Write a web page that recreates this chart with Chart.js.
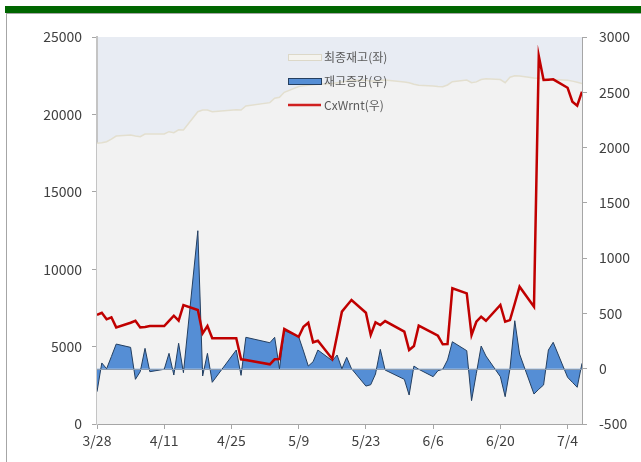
<!DOCTYPE html>
<html>
<head>
<meta charset="utf-8">
<script src="https://cdn.jsdelivr.net/npm/chart.js@4"></script>
<style>
  body { margin: 0; background: #fff; }
  #topBar { position: absolute; left: 5px; top: 6px; width: 636px; height: 7px; background: #006600; }
  #frame { position: absolute; left: 6px; top: 13px; width: 640px; height: 460px; border-left: 1px solid #a6a6a6; border-top: 1px solid #a6a6a6; }
  #wrap { position: absolute; left: 0; top: 0; }
</style>
</head>
<body>
<div id="topBar"></div>
<div id="frame"></div>
<div id="wrap"><canvas id="chartStock" width="641" height="462"></canvas></div>
<script>
/* 재고 차트 */
const dates = [
  '3/28','3/29','3/30','3/31','4/1',
  '4/4','4/5','4/6','4/7','4/8',
  '4/11','4/12','4/13','4/14','4/15',
  '4/18','4/19','4/20','4/21',
  '4/26','4/27','4/28',
  '5/3','5/4','5/5','5/6',
  '5/9','5/10','5/11','5/12','5/13',
  '5/16','5/17','5/18','5/19','5/20',
  '5/23','5/24','5/25','5/26','5/27',
  '5/31','6/1','6/2','6/3',
  '6/6','6/7','6/8','6/9','6/10',
  '6/13','6/14','6/15','6/16','6/17',
  '6/20','6/21','6/22','6/23','6/24',
  '6/27','6/28','6/29','6/30','7/1',
  '7/4','7/5','7/6','7/7'
];

// 최종재고 (좌)
const finalStock = [
  18134,18170,18237,18400,18600,
  18669,18605,18560,18734,18734,
  18734,18883,18819,19000,18992,
  20175,20284,20284,20175,
  20300,20284,20543,
  20760,21040,21105,21428,
  21800,21850,21880,21920,21950,
  22000,22050,22100,22150,22200,
  22200,22150,22150,22200,22220,
  22100,22050,21950,21880,
  21830,21800,21790,21900,22113,
  22222,22050,22100,22250,22300,
  22250,22050,22400,22500,22480,
  22350,22330,22300,22280,22260,
  22200,22150,22080,22000
];

// 재고증감 (우)
const stockChange = [
  -208,52,0,110,223,
  193,-96,-27,184,-27,
  -5,139,-57,230,-36,
  1248,-66,139,-123,
  169,-60,284,
  235,284,0,344,
  289,160,24,63,169,
  72,124,0,103,0,
  -157,-145,-48,175,-12,
  -96,-238,24,-5,
  -72,-18,-5,79,244,
  163,-289,-42,205,115,
  -72,-253,0,434,133,
  -229,-186,-147,169,239,
  -78,-123,-168,49
];

// CxWrnt (우)
const cxWrnt = [
  486,506,447,465,374,
  416,434,374,378,386,
  386,432,479,434,576,
  531,320,386,275,
  275,85,78,
  40,85,88,359,
  289,380,416,239,253,
  88,300,516,570,621,
  506,305,419,395,431,
  335,169,205,389,
  321,298,221,223,727,
  682,305,425,470,434,
  576,425,440,590,742,
  561,2828,2611,2614,2617,
  2541,2415,2379,2505
];

const xTickLabels = ['3/28','4/11','4/25','5/9','5/23','6/6','6/20','7/4'];
const seriesNames = ['최종재고(좌)', '재고증감(우)', 'CxWrnt(우)'];

const dayOf = (s) => {
  let [m, d] = s.split('/').map(Number);
  return Math.round((Date.UTC(2016, m - 1, d) - Date.UTC(2016, 2, 28)) / 864e5);
};
const toPoints = (arr) => dates.map((d, i) => ({ x: dayOf(d), y: arr[i] }));

Chart.defaults.font.family = "'Noto Sans CJK KR', 'Noto Sans', sans-serif";
Chart.defaults.color = '#404040';

const plotBg = {
  id: 'plotBg',
  beforeDraw(chart) {
    let { ctx, chartArea: a } = chart;
    ctx.save();
    ctx.fillStyle = '#E8ECF3';
    ctx.fillRect(a.left, a.top, a.right - a.left, a.bottom - a.top);
    ctx.restore();
  }
};

const zeroLine = {
  id: 'zeroLine',
  afterDatasetsDraw(chart) {
    let { ctx, chartArea: a } = chart;
    let y = Math.round(chart.scales.y1.getPixelForValue(0)) + 0.5;
    ctx.save();
    ctx.strokeStyle = '#8A9BB0';
    ctx.lineWidth = 1;
    ctx.beginPath();
    ctx.moveTo(a.left, y);
    ctx.lineTo(a.right, y);
    ctx.stroke();
    ctx.restore();
  }
};

const innerLegend = {
  id: 'innerLegend',
  afterDraw(chart) {
    let ctx = chart.ctx;
    let x = 288, w = 33;
    let rows = [57, 81, 105];
    ctx.save();
    ctx.font = "12px 'Noto Sans CJK KR', sans-serif";
    ctx.textBaseline = 'middle';
    ctx.fillStyle = '#F4F3EE';
    ctx.strokeStyle = '#DCD8C8';
    ctx.lineWidth = 1;
    ctx.fillRect(x, rows[0] - 3, w, 6);
    ctx.strokeRect(x + 0.5, rows[0] - 2.5, w, 6);
    ctx.fillStyle = '#558ED5';
    ctx.strokeStyle = '#243F60';
    ctx.fillRect(x, rows[1] - 3, w, 6);
    ctx.strokeRect(x + 0.5, rows[1] - 2.5, w, 6);
    ctx.strokeStyle = '#D02020';
    ctx.lineWidth = 2.5;
    ctx.beginPath();
    ctx.moveTo(x, rows[2]);
    ctx.lineTo(x + w, rows[2]);
    ctx.stroke();
    ctx.fillStyle = '#595959';
    seriesNames.forEach((n, i) => ctx.fillText(n, x + w + 3, rows[i]));
    ctx.restore();
  }
};

let ctx = document.getElementById('chartStock').getContext('2d');
let myChart = new Chart(ctx, {
  type: 'line',
  plugins: [plotBg, zeroLine, innerLegend],
  data: {
    datasets: [
      {
        label: seriesNames[2],
        data: toPoints(cxWrnt),
        yAxisID: 'y1',
        borderColor: '#C00000',
        borderWidth: 2.5,
        fill: false,
        order: 1,
      },
      {
        label: seriesNames[1],
        data: toPoints(stockChange),
        yAxisID: 'y1',
        borderColor: '#243F60',
        borderWidth: 1,
        backgroundColor: '#558ED5',
        fill: 'origin',
        order: 2,
      },
      {
        label: seriesNames[0],
        data: toPoints(finalStock),
        yAxisID: 'y',
        borderColor: '#E3DFCF',
        borderWidth: 1.5,
        backgroundColor: '#F2F2F2',
        fill: 'start',
        order: 3,
      },
    ],
  },
  options: {
    responsive: false,
    animation: false,
    devicePixelRatio: 1,
    layout: { padding: { top: 37, left: 0, right: 0, bottom: 0 } },
    elements: { point: { radius: 0 }, line: { tension: 0 } },
    plugins: { legend: { display: false }, tooltip: { enabled: false } },
    scales: {
      x: {
        type: 'linear',
        min: 0,
        max: 101,
        afterBuildTicks: (s) => { s.ticks = xTickLabels.map((l) => ({ value: dayOf(l) })); },
        afterFit: (s) => { s.height = 38; },
        ticks: {
          autoSkip: false,
          maxRotation: 0,
          padding: 3,
          font: { size: 14 },
          callback: (v) => xTickLabels.find((l) => dayOf(l) === v) || '',
        },
        grid: { drawOnChartArea: false, tickLength: 5, color: '#A6A6A6' },
        border: { color: '#A6A6A6' },
      },
      y: {
        position: 'left',
        min: 0,
        max: 25000,
        afterFit: (s) => { s.width = 97; },
        ticks: { stepSize: 5000, padding: 10, font: { size: 14 }, callback: (v) => String(v) },
        grid: { drawOnChartArea: false, tickLength: 5, color: '#A6A6A6' },
        border: { color: '#C4C4C4', width: 2 },
      },
      y1: {
        position: 'right',
        min: -500,
        max: 3000,
        afterFit: (s) => { s.width = 59; },
        ticks: { stepSize: 500, padding: 12, font: { size: 14 }, callback: (v) => String(v) },
        grid: { drawOnChartArea: false, tickLength: 5, color: '#A6A6A6' },
        border: { color: '#A6A6A6' },
      },
    },
  },
});
</script>
</body>
</html>
